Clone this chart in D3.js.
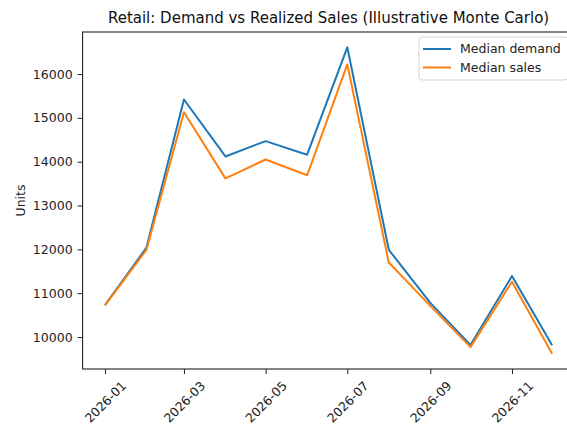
<!DOCTYPE html>
<html>
<head>
<meta charset="utf-8">
<script src="https://cdn.jsdelivr.net/npm/d3@7"></script>
<style>
  html, body { margin: 0; padding: 0; background: #fff; overflow: hidden; }
  text { font-family: "DejaVu Sans", sans-serif; }
</style>
</head>
<body>
<div id="chart"></div>
<script>
// Monthly medians
const months = ["2026-01", "2026-02", "2026-03", "2026-04", "2026-05", "2026-06",
                "2026-07", "2026-08", "2026-09", "2026-10", "2026-11", "2026-12"];
const medianDemand = [10730, 12040, 15420, 14120, 14470, 14160, 16610, 11990, 10780, 9820, 11390, 9810];
const medianSales  = [10720, 11990, 15130, 13620, 14050, 13690, 16220, 11700, 10710, 9770, 11260, 9620];
const yTicks = [10000, 11000, 12000, 13000, 14000, 15000, 16000];

const width = 567, height = 424;
const marginLeft = 82.6, marginRight = -7.5, marginTop = 32, marginBottom = 55;

const parse = d3.timeParse("%Y-%m");
const dates = months.map(parse);

const svg = d3.select("#chart")
  .append("svg")
  .attr("width", width)
  .attr("height", height);

// matplotlib-ish 5% margins
const [t0, t1] = d3.extent(dates);
const tPad = (t1 - t0) * 0.05;
const x = d3.scaleTime()
  .domain([new Date(+t0 - tPad), new Date(+t1 + tPad)])
  .range([marginLeft, width - marginRight]);

const [v0, v1] = d3.extent(medianDemand.concat(medianSales));
const vPad = (v1 - v0) * 0.05;
const y = d3.scaleLinear()
  .domain([v0 - vPad, v1 + vPad])
  .range([height - marginBottom, marginTop]);

// x axis
const xAxis = d3.axisBottom(x)
  .ticks(d3.timeMonth.every(2))
  .tickFormat(d3.timeFormat("%Y-%m"))
  .tickSize(5)
  .tickPadding(5);

const gx = svg.append("g")
  .attr("transform", `translate(0,${height - marginBottom})`)
  .call(xAxis);
gx.select(".domain").remove();
gx.selectAll(".tick line").attr("stroke", "#222").attr("stroke-width", 1);
gx.selectAll(".tick text")
  .attr("font-size", 12.5)
  .attr("fill", "#222")
  .attr("text-anchor", "middle")
  .attr("dominant-baseline", "central")
  .each(function() {
    const w = this.getComputedTextLength();
    const h = 12.5;
    const off = 10 + (w + h) / (2 * Math.SQRT2);
    d3.select(this)
      .attr("y", 0)
      .attr("dy", null)
      .attr("transform", `translate(0,${off}) rotate(-45)`);
  });

// y axis
const gy = svg.append("g")
  .attr("transform", `translate(${marginLeft},0)`)
  .call(d3.axisLeft(y).tickValues(yTicks).tickFormat(d3.format("d")).tickSize(5).tickPadding(5));
gy.select(".domain").remove();
gy.selectAll(".tick line").attr("stroke", "#222").attr("stroke-width", 1);
gy.selectAll(".tick text").attr("font-size", 12.5).attr("fill", "#222");

// frame
svg.append("rect")
  .attr("x", marginLeft)
  .attr("y", marginTop)
  .attr("width", width - marginRight - marginLeft)
  .attr("height", height - marginBottom - marginTop)
  .attr("fill", "none")
  .attr("stroke", "#222")
  .attr("stroke-width", 1.1);

// lines
const line = d3.line()
  .x((d, i) => x(dates[i]))
  .y(d => y(d));

svg.append("path")
  .datum(medianDemand)
  .attr("fill", "none")
  .attr("stroke", "#1f77b4")
  .attr("stroke-width", 2)
  .attr("stroke-linejoin", "round")
  .attr("d", line);

svg.append("path")
  .datum(medianSales)
  .attr("fill", "none")
  .attr("stroke", "#ff7f0e")
  .attr("stroke-width", 2)
  .attr("stroke-linejoin", "round")
  .attr("d", line);

// title + y label
svg.append("text")
  .attr("x", (marginLeft + width - marginRight) / 2)
  .attr("y", 23)
  .attr("text-anchor", "middle")
  .attr("font-size", 15)
  .attr("fill", "#111")
  .text("Retail: Demand vs Realized Sales (Illustrative Monte Carlo)");

svg.append("text")
  .attr("transform", `translate(25,${(marginTop + height - marginBottom) / 2}) rotate(-90)`)
  .attr("text-anchor", "middle")
  .attr("font-size", 12.5)
  .attr("fill", "#222")
  .text("Units");

// legend
const legend = svg.append("g");
legend.append("rect")
  .attr("x", 419)
  .attr("y", 37)
  .attr("width", 149)
  .attr("height", 43)
  .attr("rx", 3)
  .attr("fill", "#fff")
  .attr("fill-opacity", 0.8)
  .attr("stroke", "#d5d5d5");

const items = [
  {label: "Median demand", color: "#1f77b4"},
  {label: "Median sales", color: "#ff7f0e"}
];
const li = legend.selectAll("g.item")
  .data(items)
  .join("g")
    .attr("class", "item")
    .attr("transform", (d, i) => `translate(0,${49 + i * 18.5})`);
li.append("line")
  .attr("x1", 423).attr("x2", 451)
  .attr("stroke", d => d.color)
  .attr("stroke-width", 2);
li.append("text")
  .attr("x", 460)
  .attr("dy", "0.35em")
  .attr("font-size", 12.5)
  .attr("fill", "#222")
  .text(d => d.label);
</script>
</body>
</html>
